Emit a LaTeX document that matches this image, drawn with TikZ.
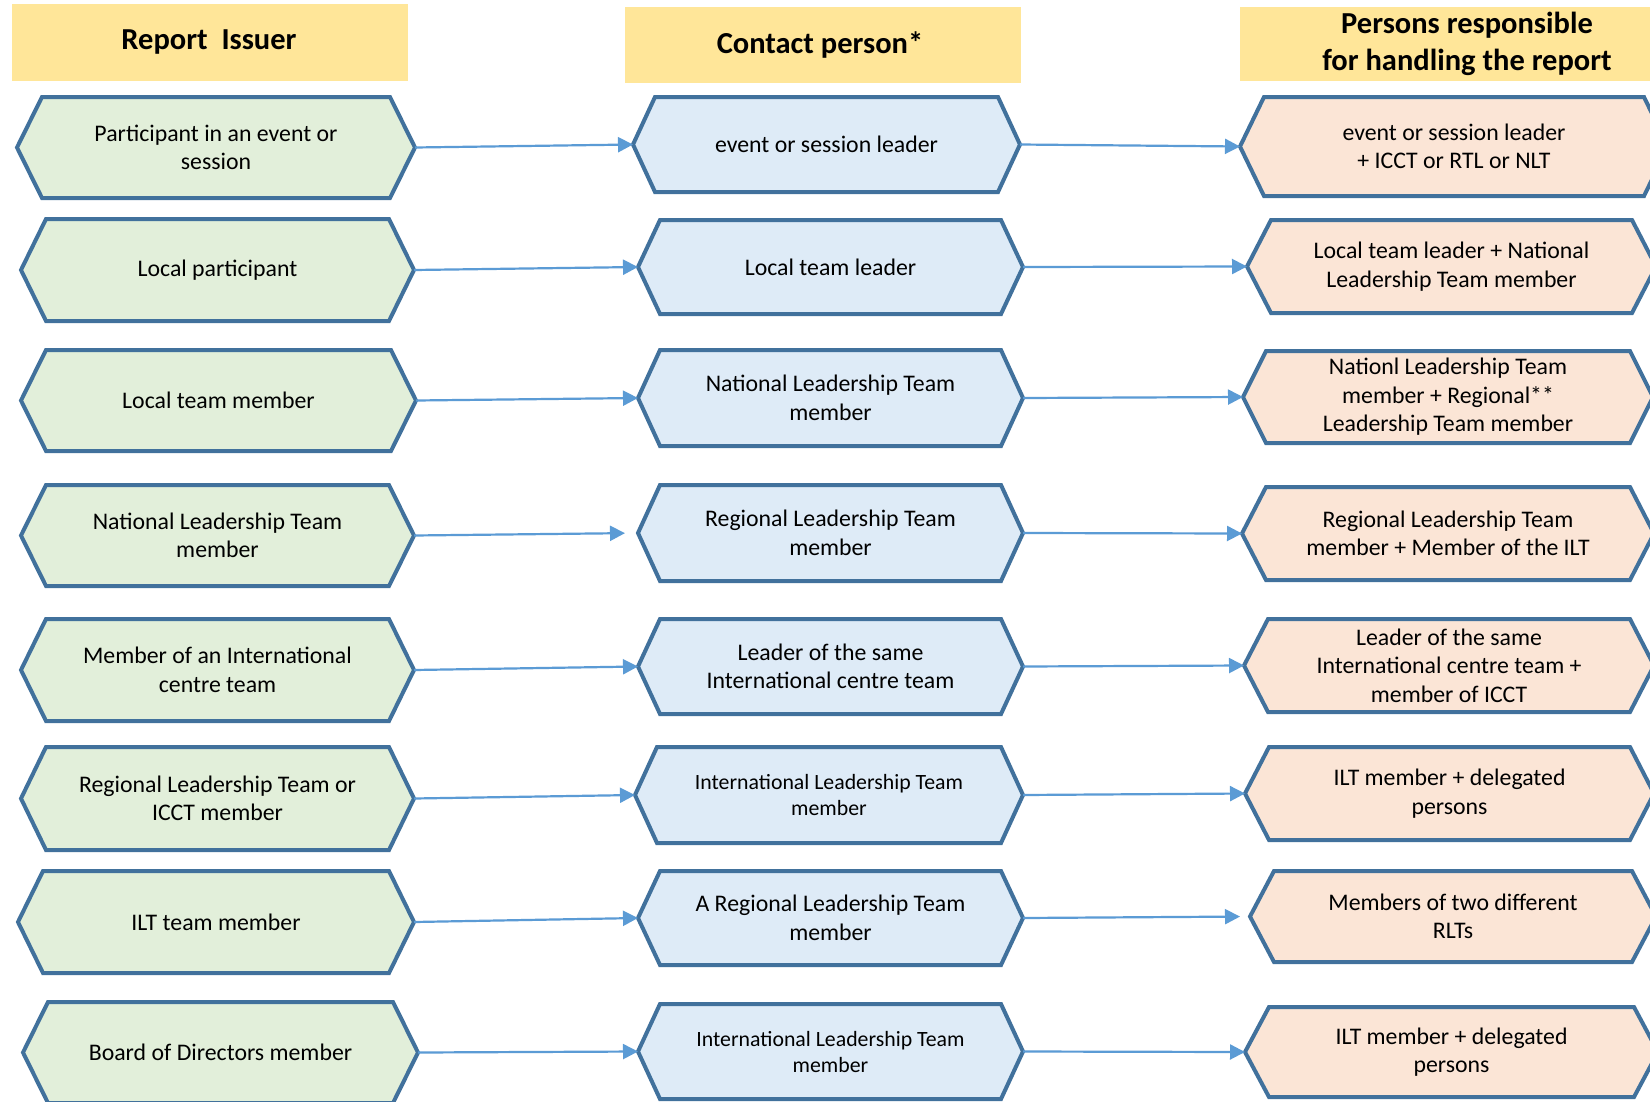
\documentclass[tikz,border=0pt]{standalone}
\usepackage{fontspec}
\setmainfont{Carlito}
\usetikzlibrary{arrows.meta}
\definecolor{hexborder}{HTML}{41719C}
\definecolor{arrowblue}{HTML}{5B9BD5}
\definecolor{greenfill}{HTML}{E2EFDA}
\definecolor{bluefill}{HTML}{DEEBF7}
\definecolor{peachfill}{HTML}{FBE5D6}
\definecolor{headfill}{HTML}{FFE699}
\tikzset{
  hexline/.style={draw=hexborder, line width=4pt, line join=miter},
  hextext/.style={align=center, font=\fontsize{23.8}{28.4}\selectfont, inner sep=0pt},
  smalltext/.style={font=\fontsize{21.8}{26}\selectfont},
  headbox/.style={fill=headfill, draw=none},
  headtext/.style={align=center, font=\bfseries\fontsize{30.5}{37}\selectfont, inner sep=0pt},
  conn/.style={draw=arrowblue, line width=2.2pt, -{Triangle[length=15pt,width=15pt]}},
}
% [text options] name, x left tip, x right tip, y top, y bottom, slant, fill, text
\newcommand\hexbox[9][]{%
  \draw[hexline, fill=#8] (#3,{(#5+#6)/2}) -- (#3+#7,#5) -- (#4-#7,#5) -- (#4,{(#5+#6)/2}) -- (#4-#7,#6) -- (#3+#7,#6) -- cycle;
  \node[hextext,#1] (#2) at ({(#3+#4)/2},{(#5+#6)/2}) {#9};
  \coordinate (#2-w) at (#3,{(#5+#6)/2});
  \coordinate (#2-e) at (#4,{(#5+#6)/2});
}
\begin{document}
\begin{tikzpicture}[x=1pt,y=-1pt]
\useasboundingbox (0,0) rectangle (1650,1101);
\fill[white] (0,0) rectangle (1650,1101);
\clip (0,0) rectangle (1650,1101);
% headers
\fill[headbox] (12,4) rectangle (408,81);
\node[headtext] (h1) at (209,42) {Report\ \ Issuer};
\fill[headbox] (625,7) rectangle (1021,83);
\node[headtext] (h2) at (820,45) {Contact person*};
\fill[headbox] (1240,7) rectangle (1700,81);
\node[headtext] (h3) at (1467,44) {Persons responsible\\ for handling the report};
% left column
\hexbox{L1}{17}{415}{97}{198}{25}{greenfill}{Participant in an event or\\session}
\hexbox{L2}{21}{414}{219}{321}{25}{greenfill}{Local participant}
\hexbox{L3}{21}{416}{350}{451}{25}{greenfill}{Local team member}
\hexbox{L4}{21}{414}{485}{586}{25}{greenfill}{National Leadership Team\\member}
\hexbox{L5}{21}{414}{619}{721}{25}{greenfill}{Member of an International\\centre team}
\hexbox{L6}{21}{414}{747}{850}{25}{greenfill}{Regional Leadership Team or\\ICCT member}
\hexbox{L7}{18}{414}{871}{973}{25}{greenfill}{ILT team member}
\hexbox{L8}{23}{418}{1002}{1103}{25}{greenfill}{Board of Directors member}
% middle column
\hexbox{M1}{633}{1020}{97}{192}{22}{bluefill}{event or session leader}
\hexbox{M2}{638}{1023}{220}{314}{22}{bluefill}{Local team leader}
\hexbox{M3}{638}{1023}{350}{446}{22}{bluefill}{National Leadership Team\\member}
\hexbox{M4}{638}{1023}{485}{581}{22}{bluefill}{Regional Leadership Team\\member}
\hexbox{M5}{638}{1023}{619}{714}{22}{bluefill}{Leader of the same\\International centre team}
\hexbox[smalltext]{M6}{635}{1023}{747}{843}{22}{bluefill}{International Leadership Team\\member}
\hexbox{M7}{638}{1023}{871}{965}{22}{bluefill}{A Regional Leadership Team\\member}
\hexbox[smalltext]{M8}{638}{1023}{1004}{1099}{22}{bluefill}{International Leadership Team\\member}
% right column
\hexbox{R1}{1240}{1668}{97}{196}{24}{peachfill}{event or session leader\\+ ICCT or RTL or NLT}
\hexbox{R2}{1247}{1656}{220}{313}{24}{peachfill}{Local team leader + National\\Leadership Team member}
\hexbox{R3}{1243}{1653}{351}{443}{23}{peachfill}{Nationl Leadership Team\\member + Regional**\\Leadership Team member}
\hexbox{R4}{1242}{1654}{487}{580}{24}{peachfill}{Regional Leadership Team\\member + Member of the ILT}
\hexbox{R5}{1244}{1654}{619}{712}{24}{peachfill}{Leader of the same\\International centre team +\\member of ICCT}
\hexbox{R6}{1245}{1654}{747}{840}{24}{peachfill}{ILT member + delegated\\persons}
\hexbox{R7}{1250}{1656}{871}{962}{24}{peachfill}{Members of two different\\RLTs}
\hexbox{R8}{1245}{1658}{1007}{1097}{24}{peachfill}{ILT member + delegated\\persons}
% connectors
\draw[conn] (L1-e) -- (M1-w);
\draw[conn] (L2-e) -- (M2-w);
\draw[conn] (L3-e) -- (M3-w);
\draw[conn, shorten >=13pt] (L4-e) -- (M4-w);
\draw[conn] (L5-e) -- (M5-w);
\draw[conn] (L6-e) -- (M6-w);
\draw[conn] (L7-e) -- (M7-w);
\draw[conn] (L8-e) -- (M8-w);
\draw[conn] (M1-e) -- (R1-w);
\draw[conn] (M2-e) -- (R2-w);
\draw[conn] (M3-e) -- (R3-w);
\draw[conn] (M4-e) -- (R4-w);
\draw[conn] (M5-e) -- (R5-w);
\draw[conn] (M6-e) -- (R6-w);
\draw[conn, shorten >=10pt] (M7-e) -- (R7-w);
\draw[conn] (M8-e) -- (R8-w);
\end{tikzpicture}
\end{document}
